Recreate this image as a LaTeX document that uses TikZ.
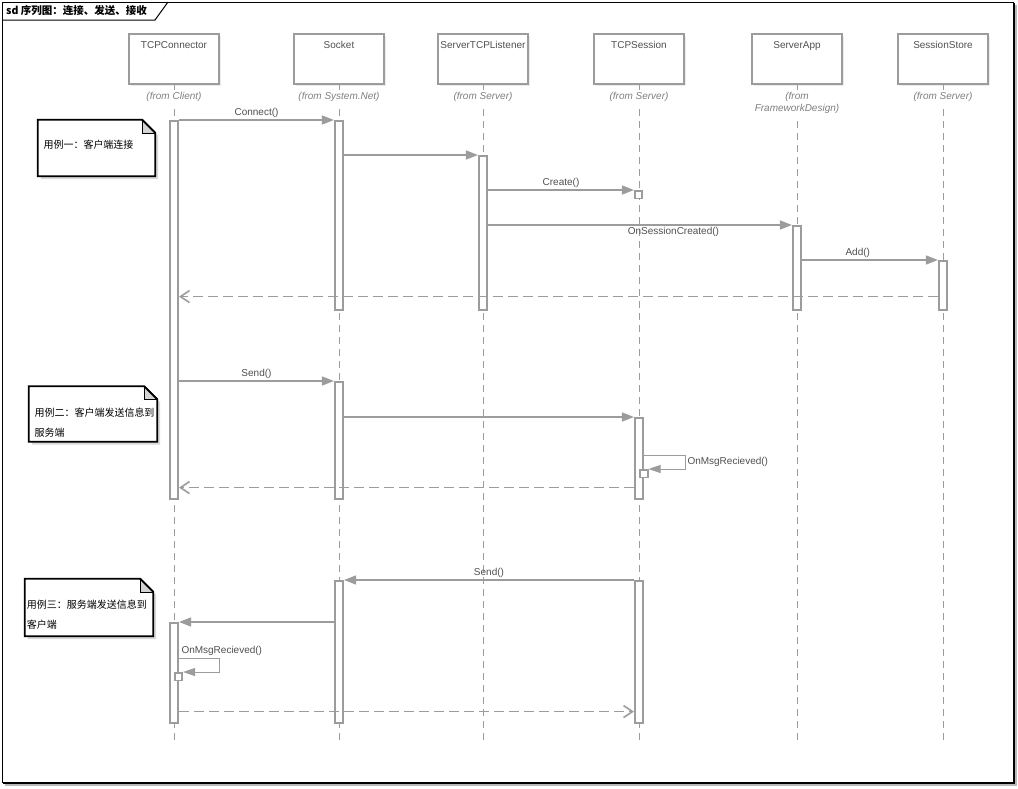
\documentclass[tikz,border=0pt]{standalone}
\usepackage{fontspec}
\setmainfont{Liberation Sans}
\newfontfamily\cjk{Noto Sans CJK SC}
\usetikzlibrary{arrows.meta, calc, positioning, shadows}
\definecolor{linegray}{HTML}{9C9C9C}
\definecolor{textgray}{HTML}{505050}
\definecolor{foldgray}{HTML}{D4D4D4}

\begin{document}
\begin{tikzpicture}[
    x=1pt, y=-1pt,
    head/.style={draw=linegray, line width=1.6pt, fill=white, minimum width=90pt,
        inner xsep=0pt, inner ysep=3pt, text height=11pt, text depth=33pt,
        font=\fontsize{10}{12}\selectfont, text=textgray,
        drop shadow={shadow xshift=2pt, shadow yshift=-2pt, fill=gray!30}},
    from/.style={anchor=north, fill=white, inner sep=2pt, align=center,
        font=\fontsize{10}{12}\selectfont\itshape, text=gray},
    lifeline/.style={draw=linegray, line width=0.8pt, dash pattern=on 7pt off 5pt},
    bar/.style={draw=linegray, line width=1.6pt, fill=white, minimum width=8.5pt,
        inner sep=0pt, anchor=north},
    box/.style={bar, line width=1.6pt, minimum width=7.5pt, minimum height=7.5pt},
    msg/.style={draw=linegray, line width=1.4pt, -{Triangle[length=12pt,width=9pt]}},
    self/.style={draw=linegray, line width=0.9pt, -{Triangle[length=12pt,width=8pt]}},
    ret/.style={draw=linegray, line width=1.6pt, dash pattern=on 10pt off 5pt,
        -{Straight Barb[length=9pt,width=12pt]}},
    lbl/.style={font=\fontsize{10}{12}\selectfont, text=textgray, inner sep=2pt},
    note/.style={minimum width=128pt, minimum height=56pt, inner sep=0pt},
    notetext/.style={anchor=north west, inner sep=0pt, align=left,
        font=\cjk\fontsize{10}{20}\selectfont},
    notebox/.style={draw=black, line width=1.8pt, fill=white, line join=miter},
    fold/.style={fill=foldgray, draw=black, line width=0.6pt}
]
\useasboundingbox (0,0) rectangle (1018,788);

% frame
\fill[gray!55] (5,5) rectangle (1017,786);
\fill[black] (3,3) rectangle (1015,784);
\filldraw[fill=white, draw=black, line width=1pt] (2,2) rectangle (1013,782);
\draw[black, line width=1pt] (2,20) -- (155,20) -- (168,2);
\node[anchor=west, inner sep=0pt, font=\cjk\bfseries\fontsize{10.5}{12}\selectfont] (title) at (6,11) {sd 序列图：连接、发送、接收};

% lifeline heads
\node[head] (conn) at (174,59) {TCPConnector};
\node[head] (sock) at (339,59) {Socket};
\node[head] (list) at (483,59) {ServerTCPListener};
\node[head] (sess) at (639,59) {TCPSession};
\node[head] (app) at (797,59) {ServerApp};
\node[head] (store) at (943,59) {SessionStore};

% lifeline ends
\coordinate (conn-end) at (174,740);
\coordinate (sock-end) at (339,740);
\coordinate (list-end) at (483,740);
\coordinate (sess-end) at (639,740);
\coordinate (app-end) at (797,740);
\coordinate (store-end) at (943,740);

\draw[lifeline] (conn) -- (conn-end);
\draw[lifeline] (sock) -- (sock-end);
\draw[lifeline] (list) -- (list-end);
\draw[lifeline] (sess) -- (sess-end);
\draw[lifeline] (app) -- (app-end);
\draw[lifeline] (store) -- (store-end);

\node[from] (conn-from) at (174,90) {(from Client)};
\node[from] (sock-from) at (339,90) {(from System.Net)};
\node[from] (list-from) at (483,90) {(from Server)};
\node[from] (sess-from) at (639,90) {(from Server)};
\node[from] (app-from) at (797,90) {(from\\FrameworkDesign)};
\node[from] (store-from) at (943,90) {(from Server)};

% activation bars
\node[bar, minimum height=378pt] (conn1) at (174,120) {};
\node[bar, minimum height=100pt] (conn2) at (174,622) {};
\node[bar, minimum height=189pt] (sock1) at (339,120) {};
\node[bar, minimum height=117pt] (sock2) at (339,381) {};
\node[bar, minimum height=142pt] (sock3) at (339,580) {};
\node[bar, minimum height=154pt] (list1) at (483,155) {};
\node[bar, minimum height=81pt] (sess1) at (639,417) {};
\node[bar, minimum height=142pt] (sess2) at (639,580) {};
\node[bar, minimum height=84pt] (app1) at (797,225) {};
\node[bar, minimum height=49pt] (store1) at (943,260) {};

\node[box] (sess0) at (638.5,190) {};
\node[box] (sess1s) at (644,469) {};
\node[box] (conn2s) at (178.5,672) {};

% use case 1: connect
\draw[msg] (conn1.north east) -- node[lbl, above] {Connect()} (sock1.north west);
\draw[msg] (sock1.east |- list1.north) -- (list1.north west);
\draw[msg] (list1.east |- sess0.north) -- node[lbl, above] {Create()} (sess0.north west);
\draw[msg] (list1.east |- app1.north) -- node[lbl, below, pos=0.61] {OnSessionCreated()} (app1.north west);
\draw[msg] (app1.east |- store1.north) -- node[lbl, above, pos=0.41] {Add()} (store1.north west);
\coordinate (r1) at ($(store1.south west)+(0,-14)$);
\draw[ret] (r1) -- (r1 -| conn1.east);

% use case 2: client sends
\draw[msg] (conn1.east |- sock2.north) -- node[lbl, above] {Send()} (sock2.north west);
\draw[msg] (sock2.east |- sess1.north) -- (sess1.north west);
\draw[self] ($(sess1s.north -| sess1.east)+(0,-14)$) -- ++(41,0)
    -- ++(0,14) node[lbl, midway, right] {OnMsgRecieved()} -- (sess1s.north east);
\coordinate (r2) at ($(sess1.south west)+(0,-12)$);
\draw[ret] (r2) -- (r2 -| conn1.east);

% use case 3: server sends
\draw[msg] (sess2.north west) -- node[lbl, above] {Send()} (sock3.north east);
\draw[msg] (sock3.west |- conn2.north) -- (conn2.north east);
\draw[self] ($(conn2s.north -| conn2.east)+(0,-14)$) -- node[lbl, pos=0, above right] {OnMsgRecieved()} ++(40,0)
    -- ++(0,14) -- (conn2s.north east);
\coordinate (r3) at ($(conn2.south east)+(0,-12)$);
\draw[ret] (r3) -- (r3 -| sess2.west);

% notes
\node[note, minimum width=117pt] (note1) at (96.5,148) {};
\node[note, minimum height=55pt] (note2) at (93,414) {};
\node[note, minimum height=57pt] (note3) at (89,607.5) {};

\foreach \n in {note1,note2,note3}{
  \fill[gray!30] ($(\n.south west)+(3,3)$) -- ($(\n.north west)+(3,3)$) -- ($(\n.north east)+(-10,3)$)
      -- ($(\n.north east)+(3,16)$) -- ($(\n.south east)+(3,3)$) -- cycle;
  \filldraw[notebox] (\n.south west) -- (\n.north west) -- ($(\n.north east)+(-13,0)$)
      -- ($(\n.north east)+(0,13)$) -- (\n.south east) -- cycle;
  \filldraw[fold] ($(\n.north east)+(-13,0)$) -- ($(\n.north east)+(-13,13)$) -- ($(\n.north east)+(0,13)$);
  \draw[black, line width=1.8pt] ($(\n.north east)+(-13,0)$) -- ($(\n.north east)+(0,13)$);
}

\node[notetext] (note1-text) at ($(note1.north west)+(5.5,20)$) {用例一：客户端连接};
\node[notetext] (note2-text) at ($(note2.north west)+(5.5,21)$) {用例二：客户端发送信息到\\服务端};
\node[notetext] (note3-text) at ($(note3.north west)+(2,21)$) {用例三：服务端发送信息到\\客户端};
\end{tikzpicture}
\end{document}
